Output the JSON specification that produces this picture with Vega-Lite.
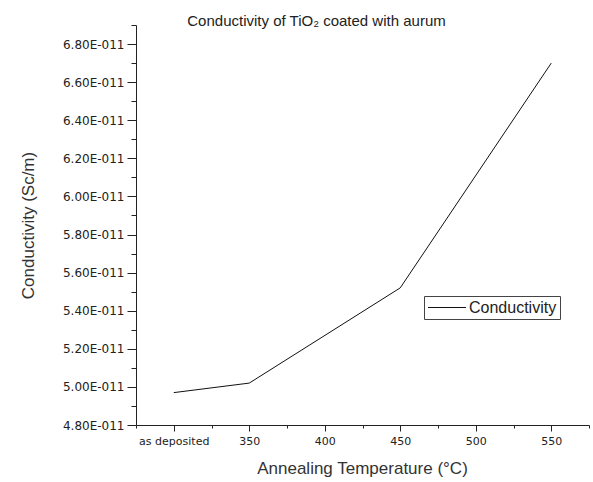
{
  "$schema": "https://vega.github.io/schema/vega-lite/v6.json",
  "autosize": "none",
  "width": 453,
  "height": 400,
  "padding": {"left": 136, "top": 25, "right": 4, "bottom": 57},
  "background": "white",
  "title": {
    "text": "Conductivity of TiO₂ coated with aurum",
    "font": "Liberation Sans",
    "fontSize": 15,
    "fontWeight": "normal",
    "color": "#222",
    "anchor": "middle",
    "baseline": "alphabetic",
    "offset": 0,
    "dx": -46,
    "dy": 22
  },
  "config": {
    "view": {"stroke": null},
    "axis": {"grid": false, "domainColor": "#222", "tickColor": "#222", "labelColor": "#222", "titleColor": "#333", "labelFont": "DejaVu Sans", "titleFont": "Liberation Sans", "titleFontWeight": "normal"}
  },
  "data": {
    "values": [
      {"temp": 300, "conductivity": 4.97e-11, "series": "Conductivity"},
      {"temp": 350, "conductivity": 5.02e-11, "series": "Conductivity"},
      {"temp": 450, "conductivity": 5.52e-11, "series": "Conductivity"},
      {"temp": 550, "conductivity": 6.70e-11, "series": "Conductivity"}
    ]
  },
  "mark": {"type": "line", "strokeWidth": 1, "clip": false},
  "encoding": {
    "x": {
      "field": "temp",
      "type": "quantitative",
      "scale": {"domain": [275, 575], "nice": false, "zero": false},
      "axis": {
        "title": "Annealing Temperature (°C)",
        "titleFontSize": 17,
        "titleX": 226,
        "titleY": 43,
        "titleBaseline": "middle",
        "values": [275, 300, 325, 350, 375, 400, 425, 450, 475, 500, 525, 550, 575],
        "labelExpr": "datum.value == 300 ? 'as deposited' : (datum.value % 50 == 0 ? datum.value : '')",
        "labelFontSize": 11,
        "labelPadding": 4,
        "tickSize": {"condition": {"test": "datum.value % 50 == 0", "value": 6}, "value": 3},
        "labelFlush": false,
        "labelOverlap": false
      }
    },
    "y": {
      "field": "conductivity",
      "type": "quantitative",
      "scale": {"domain": [4.8e-11, 6.9e-11], "nice": false, "zero": false},
      "axis": {
        "title": "Conductivity (Sc/m)",
        "titleFontSize": 17,
        "titleX": -108,
        "titleY": 200,
        "titleAngle": -90,
        "titleAlign": "center",
        "titleBaseline": "middle",
        "values": [4.8e-11, 4.9e-11, 5.0e-11, 5.1e-11, 5.2e-11, 5.3e-11, 5.4e-11, 5.5e-11, 5.6e-11, 5.7e-11, 5.8e-11, 5.9e-11, 6.0e-11, 6.1e-11, 6.2e-11, 6.3e-11, 6.4e-11, 6.5e-11, 6.6e-11, 6.7e-11, 6.8e-11, 6.9e-11],
        "labelExpr": "round(datum.value * 1e12) % 2 == 0 ? format(datum.value * 1e11, '.2f') + 'E-011' : ''",
        "labelFontSize": 12,
        "labelPadding": 3,
        "tickSize": {"condition": {"test": "round(datum.value * 1e12) % 2 == 0", "value": 9}, "value": 5},
        "labelFlush": false,
        "labelOverlap": false
      }
    },
    "color": {
      "field": "series",
      "type": "nominal",
      "scale": {"range": ["#111"]},
      "legend": {
        "title": null,
        "orient": "none",
        "legendX": 288,
        "legendY": 271,
        "symbolType": "stroke",
        "symbolSize": 1444,
        "symbolStrokeWidth": 1.2,
        "clipHeight": 17,
        "labelOffset": 2,
        "labelFont": "Liberation Sans",
        "labelFontSize": 16,
        "labelColor": "#222",
        "strokeColor": "#444",
        "padding": 3,
        "fillColor": "white"
      }
    }
  }
}
